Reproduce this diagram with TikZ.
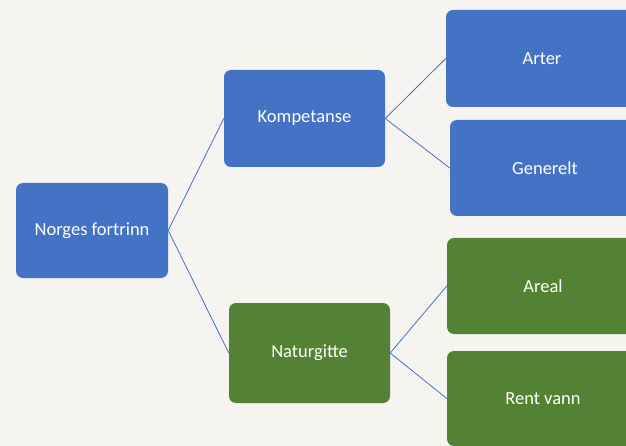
\documentclass[tikz,border=0pt]{standalone}
\usepackage{fontspec}
\setmainfont{Carlito}
\definecolor{bgc}{HTML}{F5F4F0}
\definecolor{boxblue}{HTML}{4472C4}
\definecolor{boxgreen}{HTML}{548235}
\begin{document}
\begin{tikzpicture}[x=1pt,y=-1pt,
  bx/.style={rounded corners=7pt, text=white, font=\fontsize{18.5}{22}\selectfont, inner sep=0pt},
  bl/.style={bx, fill=boxblue},
  gr/.style={bx, fill=boxgreen},
  conn/.style={draw=boxblue, line width=0.8pt}]
\clip (0,0) rectangle (626,446);
\fill[bgc] (0,0) rectangle (626,446);
\node[bl, minimum width=152pt, minimum height=95pt] (root) at (92,230.5) {Norges fortrinn};
\node[bl, minimum width=161pt, minimum height=97pt] (komp) at (304.5,118.5) {Kompetanse};
\node[gr, minimum width=161pt, minimum height=100pt] (natur) at (309.5,353) {Naturgitte};
\node[bl, minimum width=192pt, minimum height=97pt] (arter) at (542,58.5) {Arter};
\node[bl, minimum width=190pt, minimum height=96pt] (gen) at (545,168) {Generelt};
\node[gr, minimum width=192pt, minimum height=96pt] (areal) at (543,286) {Areal};
\node[gr, minimum width=192pt, minimum height=95pt] (rent) at (543,398.5) {Rent vann};
\draw[conn] (root.east) -- (komp.west);
\draw[conn] (root.east) -- (natur.west);
\draw[conn] (komp.east) -- (arter.west);
\draw[conn] (komp.east) -- (gen.west);
\draw[conn] (natur.east) -- (areal.west);
\draw[conn] (natur.east) -- (rent.west);
\end{tikzpicture}
\end{document}
